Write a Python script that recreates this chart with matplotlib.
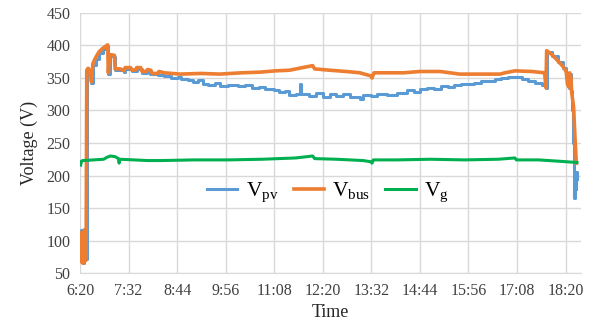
import matplotlib.pyplot as plt

# Tensiones medidas durante el día (tiempo en minutos desde medianoche)
t_bus = [381, 382, 383, 384, 385, 386, 387, 388, 389, 390, 392, 395, 397, 399,
         403, 408, 414, 421, 422, 424, 431, 432, 440, 445, 447, 455, 457, 462,
         464, 470, 472, 478, 480, 485, 487, 495, 497, 505, 528, 560, 587, 620,
         647, 670, 691, 710, 725, 728, 750, 775, 795, 812, 813, 816, 840, 860,
         884, 914, 943, 970, 1003, 1010, 1025, 1050, 1069, 1071, 1072, 1080,
         1089, 1096, 1101, 1103, 1105, 1106, 1108, 1109, 1112, 1114, 1116]
v_bus = [70, 112, 66, 110, 65, 115, 68, 116, 70, 362, 365, 360, 344, 372,
         381, 390, 396, 401, 358, 386, 385, 364, 364, 361, 366, 366, 362, 362,
         366, 366, 360, 360, 363, 362, 357, 357, 360, 358, 356, 357, 356, 358,
         359, 361, 362, 366, 369, 364, 362, 360, 358, 353, 350, 358, 358, 358,
         360, 360, 356, 356, 356, 358, 361, 360, 358, 335, 392, 386, 376, 368,
         360, 340, 336, 358, 352, 329, 305, 260, 219]

t_pv = [381, 382, 383, 384, 385, 386, 387, 388, 389, 390, 392, 395, 397, 399,
        403, 408, 414, 421, 422, 424, 431, 432, 440, 445, 447, 455, 457, 462,
        464, 470, 472, 478, 480, 484, 495, 505, 515, 525, 530, 540, 548, 555,
        562, 570, 580, 588, 600, 615, 625, 635, 645, 655, 668, 675, 684, 690,
        700, 706, 708, 720, 730, 740, 750, 760, 770, 780, 795, 800, 812, 820,
        835, 850, 865, 875, 884, 895, 905, 915, 925, 935, 945, 955, 965, 975,
        985, 995, 1005, 1015, 1025, 1035, 1045, 1055, 1065, 1070, 1071, 1072,
        1080, 1089, 1096, 1101, 1103, 1105, 1106, 1108, 1110, 1111, 1112,
        1113, 1114, 1115, 1116, 1117]
v_pv = [75, 116, 68, 112, 66, 117, 70, 118, 72, 358, 362, 358, 342, 370,
        379, 388, 394, 399, 356, 384, 383, 362, 362, 359, 364, 364, 360, 360,
        364, 364, 358, 358, 361, 356, 355, 353, 350, 352, 348, 347, 344, 347,
        341, 339, 342, 338, 339, 337, 339, 334, 336, 333, 331, 329, 330, 324,
        326, 340, 325, 323, 327, 321, 325, 322, 326, 320, 317, 324, 322, 326,
        324, 327, 331, 329, 333, 335, 333, 337, 336, 339, 341, 340, 343, 345,
        346, 348, 350, 352, 352, 348, 346, 343, 339, 337, 335, 390, 384, 374,
        366, 358, 338, 334, 356, 330, 300, 250, 195, 165, 200, 180, 205, 195]

t_g = [381, 382, 384, 400, 415, 420, 425, 432, 437, 438, 439, 460, 480, 500,
       550, 600, 650, 700, 725, 728, 760, 800, 812, 813, 815, 850, 900, 950,
       1000, 1025, 1027, 1060, 1090, 1117]
v_g = [216, 222, 223, 224, 225, 228, 230, 229, 226, 219, 225, 224, 223, 223,
       224, 224, 225, 227, 230, 226, 225, 223, 221, 219, 224, 224, 225, 224,
       225, 227, 224, 224, 222, 220]

tick_min = [380 + 72 * k for k in range(11)]
tick_lbl = [f"{m // 60}:{m % 60:02d}" for m in tick_min]

plt.rcParams['font.family'] = ['Liberation Serif', 'DejaVu Serif']
plt.rcParams['mathtext.fontset'] = 'custom'
plt.rcParams['mathtext.rm'] = 'Liberation Serif'

fig = plt.figure(figsize=(5.95, 3.29), dpi=100)
ax = fig.add_axes([0.1345, 0.1702, 0.842, 0.7903])

ax.plot(t_pv, v_pv, color='#5B9BD5', lw=2.2, drawstyle='steps-post',
        label=r'V$_{\mathrm{pv}}$')
ax.plot(t_bus, v_bus, color='#ED7D31', lw=2.6, label=r'V$_{\mathrm{bus}}$')
ax.plot(t_g, v_g, color='#00B050', lw=2.2, label=r'V$_{\mathrm{g}}$')

ax.set_xlim(380, 1123)
ax.set_ylim(50, 450)
ax.set_xticks(tick_min)
ax.set_xticklabels(tick_lbl)
ax.set_yticks(range(50, 451, 50))
ax.tick_params(length=0, labelsize=11.5, colors='#404040', pad=7)
ax.grid(color='#d9d9d9', lw=1)
ax.set_axisbelow(True)
for s in ['top', 'right', 'left']:
    ax.spines[s].set_visible(False)
ax.spines['bottom'].set_color('#d9d9d9')

ax.set_xlabel('Time', fontsize=13, color='#262626', labelpad=4)
ax.set_ylabel('Voltage (V)', fontsize=13, color='#262626', labelpad=6)

ax.legend(loc='center', bbox_to_anchor=(0.495, 0.31), ncol=3, frameon=False,
          fontsize=15.5, handlelength=1.4, handletextpad=0.4,
          columnspacing=0.7)

plt.savefig("out.png", dpi=100)
